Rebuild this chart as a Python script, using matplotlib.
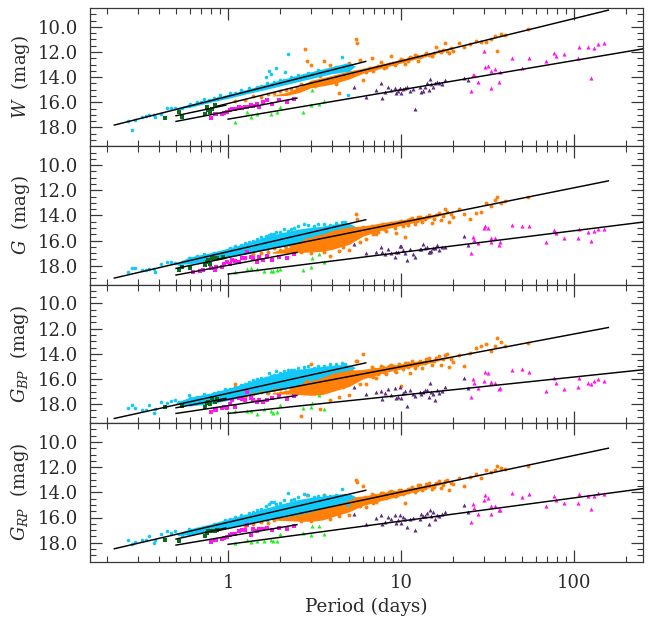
import numpy as np
import matplotlib
matplotlib.use("Agg")
import matplotlib.pyplot as plt
from matplotlib.ticker import LogLocator, FixedLocator, FixedFormatter, NullFormatter

nan = np.nan
plt.rcParams["font.family"] = "DejaVu Serif"
plt.rcParams["mathtext.fontset"] = "dejavuserif"

# individual stars, periods are shared between the four bands
cyan_p = [.265,.278,.288,.318,.333,.348,.375,.376,.407,.444,.465,.496,.52,.542,.593,.606,.662,.70,.723,.78,.826,.88,.903,.96,1.03,1.1,1.18,1.25,1.32,1.4,1.47,1.55,1.66,1.68,1.72,1.77,1.84,1.9,2.0,2.1,2.13,2.21,2.3,2.4,2.55,2.74,2.9,3.12,3.3,3.57,3.9,4.2,4.58,4.74,4.96]
cyan_w = [17.47,18.19,17.42,17.15,17.1,17.05,17.02,17.2,16.91,16.49,16.44,16.44,16.5,16.49,16.3,16.15,15.96,16.0,15.77,15.8,15.64,15.68,15.43,15.55,15.25,15.3,15.03,15.15,14.9,15.0,14.82,14.7,13.95,14.5,13.52,13.76,14.37,13.31,14.25,14.19,13.58,12.17,14.0,14.05,13.85,13.84,13.7,13.7,13.45,13.58,13.36,13.2,12.38,13.05,15.38]
cyan_g = [18.48,18.21,18.19,18.34,18.34,18.26,18.26,18.48,17.9,17.68,17.68,17.8,17.85,17.7,17.35,17.4,17.25,17.45,17.1,17.2,17.0,16.95,17.25,16.8,16.6,16.45,16.35,16.2,16.15,16.0,15.9,15.75,15.65,16.7,15.55,15.5,15.45,15.3,15.3,15.1,16.4,15.25,15.1,15.0,14.85,14.7,14.72,14.85,14.7,14.7,14.75,14.6,14.5,14.55,15.0]
cyan_bp = [18.34,18.08,18.34,18.48,18.48,18.03,18.74,18.4,17.87,17.95,17.76,17.68,17.85,18.0,17.3,17.55,17.4,17.5,17.2,17.35,17.15,17.05,17.3,16.8,16.8,16.6,16.45,16.4,16.25,16.1,16.0,15.95,15.9,17.1,15.5,15.75,15.7,15.4,15.5,15.35,16.7,15.3,15.3,15.25,15.1,15.05,14.95,15.1,14.95,14.95,14.85,14.85,14.75,14.8,15.3]
cyan_rp = [17.76,18.08,17.92,17.81,17.81,17.5,18.03,17.8,17.3,17.1,17.23,17.1,17.3,17.35,16.9,17.2,16.95,17.1,16.75,16.85,16.55,16.6,16.8,16.2,16.15,15.95,15.8,15.85,15.65,15.55,15.4,15.35,15.1,16.2,14.95,14.8,14.75,14.9,14.85,14.65,15.9,14.05,14.6,14.5,14.4,14.1,14.25,14.4,14.3,14.25,14.3,14.2,13.75,14.2,15.0]

orange_p = [1.1,1.25,1.4,1.55,1.7,1.85,2.0,2.15,2.3,2.5,2.65,2.8,2.84,3.0,3.2,3.4,3.6,3.9,4.2,4.35,4.6,5.0,5.2,5.5,5.55,5.8,6.0,6.3,6.8,7.2,7.7,8.2,8.8,9.4,10,10.6,11.3,12,12.6,13.3,14,15,16,17,18,19,20,21.5,23,25,27,29,31,33,35,36,38,40,54]
orange_w = [15.9,15.85,15.5,15.6,15.35,15.3,15.1,15.05,14.95,14.85,14.55,11.8,12.73,13.05,14.7,13.9,12.75,13.05,14.55,15.25,13.85,12.9,13.85,10.98,11.27,12.6,14.2,13.6,12.5,13.3,12.8,13.2,12.33,12.85,12.55,12.95,12.4,12.25,12.7,12.3,12.05,12.35,11.6,12.0,11.32,12.1,11.95,11.27,11.6,11.4,11.1,11.2,11.2,11.0,10.72,11.9,10.53,10.66,10.2]
orange_g = [17.55,17.35,17.1,16.95,16.9,16.6,16.75,16.55,16.45,16.3,16.9,16.05,15.9,16.95,15.75,15.6,16.9,17.2,15.3,16.83,16.5,16.75,15.1,13.9,14.3,16.1,14.95,15.9,14.85,15.5,14.75,15.25,14.6,15.4,14.45,15.75,14.3,14.7,14.15,14.55,14.1,14.6,14.0,14.37,13.5,14.5,14.1,13.45,13.85,14.3,13.8,13.7,12.97,13.25,12.78,12.52,13.0,12.86,12.57]
orange_bp = [16.44,17.4,17.2,17.0,17.1,16.9,16.8,17.05,16.7,16.6,18.93,16.3,16.2,14.82,17.1,18.4,16.0,17.7,15.8,17.4,16.6,17.3,15.4,14.58,14.58,16.44,14.05,16.4,15.05,15.9,15.0,15.6,14.9,15.45,16.57,14.75,15.56,15.1,14.7,15.1,14.45,14.9,14.3,14.9,14.1,15.03,14.65,14.1,14.95,13.95,13.5,13.4,13.23,13.75,13.36,12.78,13.05,13.36,13.18]
orange_rp = [16.3,16.65,16.5,16.35,16.4,16.2,16.0,15.9,15.85,15.75,16.25,15.5,14.19,16.3,15.4,15.2,14.24,16.1,15.05,15.9,15.4,15.78,14.7,13.05,13.18,15.1,13.5,15.17,14.1,14.75,14.05,14.45,13.9,14.3,13.8,14.85,13.7,13.95,13.45,13.85,13.35,13.75,13.25,13.66,13.13,13.8,13.35,12.85,13.5,12.75,12.55,12.86,12.25,12.4,12.2,11.93,12.05,12.15,11.93]

# the denser stretch of the orange sequence
orange2_p = [6.2,6.6,6.9,7,7.4,7.9,8,8.5,9,9.2,9.7,10.3,10.9,11,11.6,12.3,12.9,13.7,14.6,15.5,16.5,17.5,18.5,19.5]
orange2_w = [13.4,13.3,13.55,13.25,13.1,13.0,13.25,12.95,12.85,13.05,12.75,12.65,12.55,12.75,12.5,12.35,12.4,12.2,12.2,12.05,11.95,11.85,11.9,11.7]
orange2_g = [15.0,15.2,15.45,14.9,15.3,14.7,15.1,14.65,14.7,15.0,14.5,14.85,14.35,14.75,14.2,14.45,14.15,14.3,14.0,14.25,13.8,14.05,13.7,13.9]
orange2_bp = [15.4,15.75,15.85,15.2,15.6,15.05,15.45,15.0,15.0,15.35,14.85,15.2,14.7,15.05,14.55,14.9,14.55,14.7,14.3,14.6,14.2,14.45,14.0,14.4]
orange2_rp = [14.4,14.7,14.85,14.2,14.55,14.05,14.4,14.0,13.95,14.3,13.8,14.15,13.7,14.0,13.55,13.85,13.45,13.65,13.25,13.55,13.1,13.4,13.0,13.25]

purple_p = [5.35,6.3,7.2,7.7,7.75,8.1,8.4,8.8,9.2,9.3,9.6,9.9,10.0,10.3,10.5,10.8,11.3,11.8,12.1,12.9,13.1,13.4,13.8,14.1,14.5,14.7,14.9,15.3,15.8,16.2,16.6,17.2,18,23,24.3]
purple_w = [14.77,15.6,15.03,14.5,15.64,15.17,14.82,15.0,14.85,15.25,15.1,14.9,15.25,14.95,14.85,14.82,15.09,14.95,16.5,14.82,15.15,15.1,14.8,14.5,15.03,14.16,14.55,14.75,14.5,14.37,14.5,14.55,14.26,14.03,14.24]
purple_g = [16.3,16.97,16.9,16.5,16.9,17.1,16.7,16.95,17.3,16.9,16.9,16.44,16.44,16.75,17.0,17.55,16.7,17.05,17.3,16.7,16.65,16.3,16.6,16.5,16.9,16.94,16.8,16.6,16.6,16.36,16.75,16.5,16.5,15.64,16.36]
purple_bp = [16.62,17.23,17.07,16.97,17.6,17.15,16.83,17.3,16.68,17.55,17.4,16.62,17.55,17.1,16.95,18.13,16.9,17.2,17.37,17.07,17.2,17.0,16.9,16.9,17.42,16.36,17.05,17.2,17.68,16.9,17.1,16.95,16.62,15.9,16.75]
purple_rp = [15.72,16.52,16.04,15.83,16.5,16.38,15.96,16.1,15.77,16.44,16.2,15.77,16.44,15.95,16.1,16.75,16.1,16.0,17.02,16.1,15.75,15.85,15.9,15.64,16.52,15.38,15.9,15.6,16.12,15.77,15.9,15.75,15.56,14.98,15.59]

tri_p = [25.4,26,26.5,28,30.2,30.4,32,32.9,33,35,36.7,37.5,44,50,55,69,77,79,88,106,107,120,125,131,138,150]
tri_w = [15.09,13.84,13.84,14.37,11.93,13.18,13.1,14.85,13.5,13.39,14.37,13.58,12.44,13.31,12.44,12.7,12.07,12.3,12.12,12.46,11.64,11.64,14.03,11.7,11.4,11.25]
tri_g = [16.97,15.7,15.96,16.23,15.03,14.85,15.03,16.15,15.83,15.83,16.36,16.15,14.72,14.85,14.85,16.15,15.17,15.43,15.83,15.77,15.11,15.3,16.0,15.25,15.09,15.11]
tri_bp = [17.42,16.0,16.36,16.7,16.15,15.48,15.5,16.36,16.23,16.36,16.83,16.75,15.3,15.2,15.43,16.94,15.96,16.3,16.83,16.62,15.96,16.3,16.4,16.15,16.04,16.15]
tri_rp = [16.36,14.9,15.25,15.7,14.58,14.19,14.45,15.72,15.06,15.06,15.38,15.38,14.05,14.37,14.1,15.11,14.32,14.58,14.85,14.85,14.13,14.32,15.32,14.26,14.05,14.1]

sq_p = [.63,.69,.72,.8,.84,.856,.92,.95,.99,1.02,1.05,1.1,1.15,1.2,1.25,1.29,1.35,1.4,1.47,1.5,1.6,1.68,1.8,1.96,2.2,2.4]
sq_w = [nan,nan,nan,17.23,16.95,16.97,16.97,16.85,16.75,16.6,16.5,16.55,16.4,16.45,16.35,16.4,16.25,16.3,16.17,16.4,15.96,15.83,16.1,15.83,15.96,15.72]
sq_g = [18.48,18.42,18.35,18.2,18.3,18.1,18.1,17.9,17.7,17.9,17.55,17.65,17.68,17.4,17.35,16.89,17.3,17.35,17.68,17.3,17.55,17.2,17.55,17.28,17.4,17.1]
sq_bp = [nan,nan,nan,18.6,18.5,18.48,18.3,18.2,18.34,18.0,17.68,18.2,17.55,17.63,17.7,17.0,17.55,17.65,17.8,17.7,17.87,17.7,17.55,17.34,17.6,17.34]
sq_rp = [nan,nan,nan,17.97,17.8,17.8,17.7,17.6,17.55,17.4,17.3,17.3,17.1,17.0,17.0,16.57,17.36,16.95,17.1,16.95,16.9,16.85,17.0,16.83,16.9,16.7]

dark_p = [.43,.52,.54,.6,.74,.756,.77,.79,.81,.845,.86,.94]
dark_w = [17.28,16.75,17.2,nan,16.94,16.36,16.6,16.75,16.57,16.23,nan,nan]
dark_g = [nan,18.34,18.1,18.16,17.95,17.68,17.55,17.85,17.42,17.42,17.35,17.28]
dark_bp = [18.2,nan,18.13,nan,18.2,17.9,17.8,18.0,17.55,17.8,17.6,nan]
dark_rp = [17.76,17.9,nan,nan,17.5,17.25,17.1,17.1,17.05,17.05,17.0,nan]

green_p = [1.09,1.29,1.35,1.47,1.62,1.76,1.82,1.92,1.99,2.71,3.02,3.06,3.37,3.57]
green_w = [17.6,16.8,17.15,16.94,nan,16.94,nan,16.8,16.36,16.8,16.23,15.03,16.1,15.9]
green_g = [18.48,18.26,18.16,18.26,18.42,18.42,18.4,18.3,18.26,18.3,18.1,17.42,17.1,17.74]
green_bp = [18.56,18.56,18.56,18.8,18.4,18.56,18.74,18.6,18.08,18.3,18.26,17.95,17.3,18.42]
green_rp = [18.03,17.76,17.95,17.9,17.85,17.81,17.9,17.9,17.28,17.23,17.36,16.65,16.7,17.28]

# outline of the crowded part of each cloud
cloud_cyan_p = [.5,.6,.8,1,1.3,1.6,2,2.5,3,3.5,4,4.6,5,5.4]
cloud_cyan_w_up = [16.45,16.15,15.72,15.37,14.95,14.6,14.22,13.86,13.58,13.35,13.15,12.95,12.85,13.1]
cloud_cyan_w_lo = [16.5,16.4,15.98,15.68,15.3,15.02,14.7,14.38,14.12,13.9,13.72,13.6,13.55,13.15]
cloud_cyan_g_up = [17.8,17.3,16.95,16.6,16.15,15.75,15.4,15.1,14.95,14.85,14.7,14.6,14.6,14.85]
cloud_cyan_g_lo = [17.9,17.85,17.55,17.35,17.05,16.75,16.5,16.35,16.2,16.05,15.85,15.6,15.3,14.95]
cloud_cyan_bp_up = [17.85,17.45,17.1,16.75,16.25,15.85,15.5,15.25,15.1,15.0,14.9,14.85,14.9,15.05]
cloud_cyan_bp_lo = [17.95,18.15,17.95,17.7,17.35,17.1,16.85,16.65,16.35,16.1,15.85,15.6,15.4,15.15]
cloud_cyan_rp_up = [17.3,16.9,16.5,16.1,15.7,15.3,14.95,14.6,14.4,14.3,14.2,14.1,14.1,14.3]
cloud_cyan_rp_lo = [17.35,17.4,17.05,16.8,16.45,16.2,16.0,15.8,15.55,15.3,15.05,14.85,14.6,14.4]

cloud_orange_p = [1.8,2.2,2.6,3,3.5,4,5,6,8,10,12,14,17,20]
cloud_orange_w_up = [15.45,15.2,14.75,14.25,14.05,13.85,13.5,13.3,12.9,12.6,12.38,12.18,11.92,11.7]
cloud_orange_w_lo = [15.5,15.45,15.2,14.85,14.7,14.55,14.15,13.7,13.22,12.88,12.58,12.32,11.98,11.72]
cloud_orange_g_up = [16.9,16.6,16.05,15.75,15.5,15.2,14.9,14.85,14.55,14.35,14.2,14.05,13.88,13.72]
cloud_orange_g_lo = [17.0,17.0,16.95,16.9,16.85,16.7,16.3,15.65,15.1,14.8,14.55,14.3,13.98,13.75]
cloud_orange_bp_up = [17.1,16.9,16.4,16.15,15.9,15.55,15.3,15.25,15.0,14.8,14.6,14.5,14.35,14.23]
cloud_orange_bp_lo = [17.2,17.2,17.25,17.3,17.25,17.0,16.6,16.0,15.5,15.2,15.0,14.8,14.5,14.25]
cloud_orange_rp_up = [16.15,15.95,15.5,15.2,14.9,14.65,14.4,14.3,14.0,13.8,13.6,13.45,13.25,13.1]
cloud_orange_rp_lo = [16.2,16.25,16.3,16.3,16.2,15.95,15.55,15.05,14.6,14.25,13.95,13.7,13.38,13.12]

# PL relations: end periods and end magnitudes
line_p = [[0.22,6.25],[0.5,0.97],[0.87,158],[0.5,2.5],[1,250]]
lines_w = [[17.81,12.75],[17.07,16.23],[16.30,8.67],[17.52,15.67],[17.34,11.75]]
lines_g = [[18.98,14.34],[18.21,17.4],[17.5,11.25],[18.74,16.94],[18.66,14.53]]
lines_bp = [[19.14,14.72],[18.29,17.55],[17.78,11.91],[18.74,17.31],[18.74,15.27]]
lines_rp = [[18.48,13.84],[17.71,16.83],[17.05,10.50],[18.19,16.57],[18.13,13.71]]

labels = [r"$W$  (mag)", r"$G$  (mag)", r"$G_{BP}$  (mag)", r"$G_{RP}$  (mag)"]
ytick_vals = [10, 12, 14, 16, 18]
ytick_text = ["10.0", "12.0", "14.0", "16.0", "18.0"]
xtick_vals = [1, 10, 100]
xtick_text = ["1", "10", "100"]

cyan = [cyan_w, cyan_g, cyan_bp, cyan_rp]
orange = [orange_w, orange_g, orange_bp, orange_rp]
orange2 = [orange2_w, orange2_g, orange2_bp, orange2_rp]
purple = [purple_w, purple_g, purple_bp, purple_rp]
tri = [tri_w, tri_g, tri_bp, tri_rp]
sq = [sq_w, sq_g, sq_bp, sq_rp]
dark = [dark_w, dark_g, dark_bp, dark_rp]
green = [green_w, green_g, green_bp, green_rp]
c_up = [cloud_cyan_w_up, cloud_cyan_g_up, cloud_cyan_bp_up, cloud_cyan_rp_up]
c_lo = [cloud_cyan_w_lo, cloud_cyan_g_lo, cloud_cyan_bp_lo, cloud_cyan_rp_lo]
o_up = [cloud_orange_w_up, cloud_orange_g_up, cloud_orange_bp_up, cloud_orange_rp_up]
o_lo = [cloud_orange_w_lo, cloud_orange_g_lo, cloud_orange_bp_lo, cloud_orange_rp_lo]
lines = [lines_w, lines_g, lines_bp, lines_rp]
# cyan sits on top in W and G_RP, orange on top in the other two
cyan_z = [4, 2, 2, 4]

fig = plt.figure(figsize=(6.53, 6.19), dpi=100)
W, H = 653.0, 619.0
left, right = 89.5, 643.0
edges = [8.0, 146.3, 284.6, 423.0, 561.6]
FRAME = "#383838"
TEXT = "#2a2a2a"

for i in range(4):
    top, bot = edges[i], edges[i + 1]
    ax = fig.add_axes([left / W, 1 - bot / H, (right - left) / W, (bot - top) / H])
    ax.set_xscale("log")
    ax.set_xlim(0.158, 250.5)
    ax.set_ylim(19.5, 8.5)

    cz = cyan_z[i]
    ax.fill_between(cloud_cyan_p, c_up[i], c_lo[i], color="#12c8f8", lw=0, zorder=cz)
    ax.plot(cyan_p, cyan[i], "o", color="#12c8f8", ms=2.6, mew=0, zorder=cz)
    ax.fill_between(cloud_orange_p, o_up[i], o_lo[i], color="#ff8008", lw=0, zorder=3)
    ax.plot(orange_p, orange[i], "o", color="#ff8008", ms=2.8, mew=0, zorder=3)
    ax.plot(orange2_p, orange2[i], "o", color="#ff8008", ms=2.8, mew=0, zorder=3)
    ax.plot(green_p, green[i], "^", color="#20f020", ms=2.9, mew=0, zorder=5)
    ax.plot(sq_p, sq[i], "s", color="#ff18ee", ms=2.5, mew=0, zorder=5)
    ax.plot(dark_p, dark[i], "s", color="#0a6a1e", ms=2.2, mew=0, zorder=5)
    ax.plot(purple_p, purple[i], "^", color="#5c2d80", ms=2.9, mew=0, zorder=5)
    ax.plot(tri_p, tri[i], "^", color="#ff18ee", ms=3.0, mew=0, zorder=5)

    for xs, ys in zip(line_p, lines[i]):
        ax.plot(xs, ys, "-", color="black", lw=1.05, zorder=6)

    ax.xaxis.set_major_locator(FixedLocator(xtick_vals))
    ax.xaxis.set_major_formatter(FixedFormatter(xtick_text))
    ax.xaxis.set_minor_locator(LogLocator(base=10, subs=range(2, 10), numticks=12))
    ax.xaxis.set_minor_formatter(NullFormatter())
    ax.yaxis.set_major_locator(FixedLocator(ytick_vals))
    ax.yaxis.set_major_formatter(FixedFormatter(ytick_text))
    ax.yaxis.set_minor_locator(FixedLocator(np.arange(9, 19.5, 0.5)))
    ax.tick_params(which="major", direction="in", top=True, right=True, length=8.6,
                   width=0.9, color=FRAME, labelsize=13, labelcolor=TEXT)
    ax.tick_params(which="minor", direction="in", top=True, right=True, length=4.6,
                   width=0.8, color=FRAME)
    ax.tick_params(axis="y", which="major", pad=8)
    ax.tick_params(axis="x", which="major", pad=9)
    for s in ax.spines.values():
        s.set_linewidth(0.9)
        s.set_color(FRAME)

    if i < 3:
        ax.tick_params(axis="x", which="both", labelbottom=False)
    else:
        ax.set_xlabel("Period (days)", fontsize=13.2, color=TEXT, labelpad=4)

    ax.set_ylabel(labels[i], fontsize=13, color=TEXT, va="center")
    ax.yaxis.set_label_coords((20.0 - left) / (right - left), 0.5)

fig.savefig("out.png", dpi=100)
